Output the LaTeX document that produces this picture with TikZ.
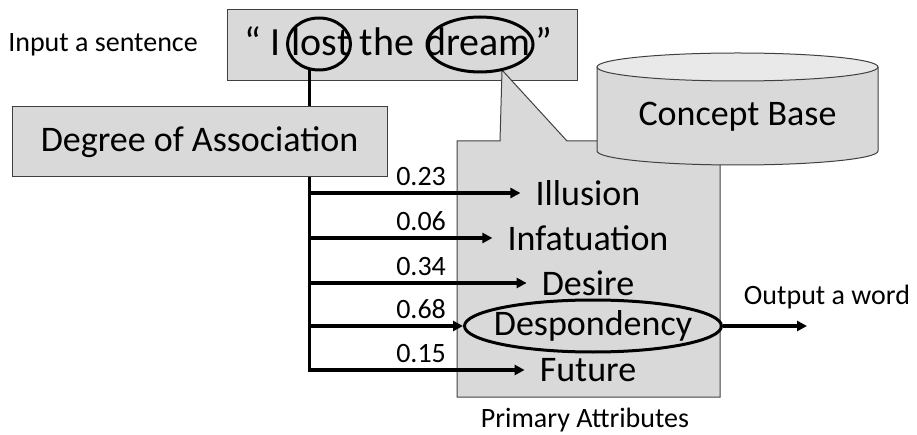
\documentclass[tikz,border=0pt]{standalone}
\usepackage{fontspec}
\setmainfont{Carlito}
\usetikzlibrary{shapes.geometric, arrows.meta, positioning}

\definecolor{boxgray}{HTML}{D9D9D9}
\definecolor{topgray}{HTML}{E9E9E9}
\definecolor{edgegray}{HTML}{404040}

\tikzset{
  box/.style={draw=edgegray, fill=boxgray, line width=1pt},
  bigtxt/.style={font=\fontsize{36}{40}\selectfont},
  senttxt/.style={font=\fontsize{40}{44}\selectfont, inner sep=0pt, anchor=base},
  smalltxt/.style={font=\fontsize{28}{31}\selectfont},
  ring/.style={draw, ellipse, line width=3pt, inner sep=0pt},
  arr/.style={line width=3.2pt, -{Triangle[length=10pt, width=10pt]}},
  word/.style={bigtxt, inner xsep=15pt, inner ysep=0pt}
}

\begin{document}
\begin{tikzpicture}[x=1pt, y=-1pt]
  \useasboundingbox (0,0) rectangle (917,435);

  % input sentence
  \node[smalltxt] (input) at (103,45) {Input a sentence};
  \node[box, minimum width=350pt, minimum height=71pt] (sent) at (402,45.5) {};

  % primary attributes callout
  \draw[box] (457,141) -- (500,141) -- (502,70) -- (567,141) -- (720,141)
    -- (720,397) -- (457,397) -- cycle;
  \node[smalltxt] (prim) at (585,420) {Primary Attributes};

  \node[senttxt] (wlost) at (321,56) {lost};
  \node[senttxt] (wthe) at (387,56) {the};
  \node[senttxt] (wdream) at (478,56) {dream};
  \node[senttxt, anchor=base east] (wopen) at (281,56) {“ I};
  \node[senttxt, anchor=base west] (wclose) at (535,56) {”};
  \node[ring, minimum width=63pt, minimum height=52pt] (lost) at (319,44) {};
  \node[ring, minimum width=106pt, minimum height=55pt] (dream) at (480,44.5) {};

  % concept base
  \path[fill=boxgray] (597,67) -- (597,151)
    arc[start angle=180, end angle=0, x radius=140.5, y radius=14] -- (878,67) -- cycle;
  \draw[draw=edgegray, line width=1pt] (597,67) -- (597,151)
    arc[start angle=180, end angle=0, x radius=140.5, y radius=14] -- (878,67);
  \draw[box, fill=topgray] (737.5,67) ellipse[x radius=140.5, y radius=14];
  \node[bigtxt] (cbase) at (737.5,117) {Concept Base};

  % attributes
  \node[word] (ill) at (588,193) {Illusion};
  \node[word] (inf) at (588,238) {Infatuation};
  \node[word] (des) at (588,283) {Desire};
  \node[ring, minimum width=257pt, minimum height=52pt] (dsp) at (593,326) {};
  \node[bigtxt] (dsptxt) at (dsp) {Despondency};
  \node[word] (fut) at (588,370) {Future};

  % degrees of association
  \draw[arr] (lost.-110) |- (fut.west);
  \foreach \w/\v in {ill/0.23, inf/0.06, des/0.34, dsp/0.68} {
    \draw[arr] (lost.-110 |- \w.west) -- (\w.west);
    \path (lost.-110 |- \w.west) ++(140,-4) node[smalltxt, anchor=south east] {\v};
  }
  \path (lost.-110 |- fut.west) ++(140,-4) node[smalltxt, anchor=south east] {0.15};

  \node[box, bigtxt, minimum width=375pt, minimum height=70pt] (assoc) at (199.5,142) {Degree of Association};

  % output
  \coordinate (out) at (807,326);
  \draw[arr] (dsp.east) -- (out);
  \node[smalltxt] (outlbl) at (827,297) {Output a word};
\end{tikzpicture}
\end{document}
